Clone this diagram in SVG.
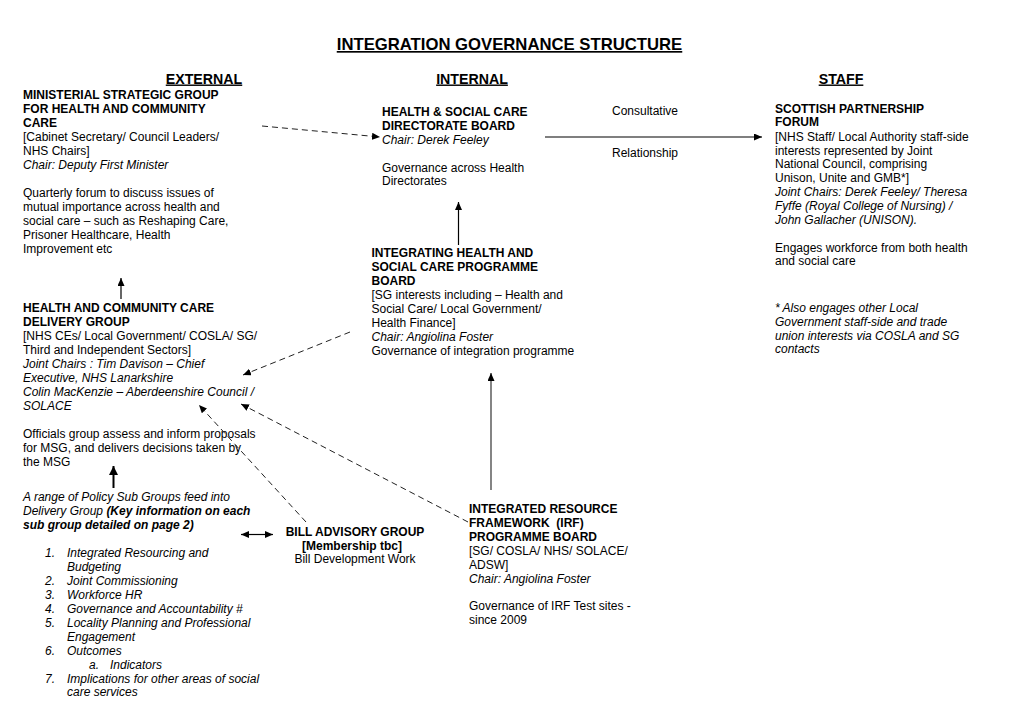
<svg xmlns="http://www.w3.org/2000/svg" width="1020" height="720" viewBox="0 0 1020 720">
<style>
text{font-family:"Liberation Sans",Arial,sans-serif;font-size:12px;fill:#000}
.b{font-weight:bold}
.i{font-style:italic}
.bi{font-weight:bold;font-style:italic}
.h{font-weight:bold;font-size:14.2px;text-decoration:underline}
.t{font-weight:bold;font-size:16.7px;text-decoration:underline}
.c{text-anchor:middle}
.dash{fill:none;stroke:#222;stroke-width:1;stroke-dasharray:6 4}
.solid{fill:none;stroke:#000;stroke-width:1.2}
</style>
<defs>
<marker id="ah" markerUnits="userSpaceOnUse" markerWidth="9" markerHeight="8" refX="8" refY="3.5" orient="auto-start-reverse"><path d="M0,0 L8,3.5 L0,7 z" fill="#000"/></marker>
<marker id="ahb" markerUnits="userSpaceOnUse" markerWidth="10" markerHeight="10" refX="9" refY="4.5" orient="auto"><path d="M0,0 L9,4.5 L0,9 z" fill="#000"/></marker>
</defs>
<rect width="1020" height="720" fill="#fff"/>
<text class="t c" x="509.5" y="50">INTEGRATION GOVERNANCE STRUCTURE</text>
<text class="h c" x="204" y="83.5">EXTERNAL</text>
<text class="h c" x="472" y="83.5">INTERNAL</text>
<text class="h c" x="841" y="83.5">STAFF</text>

<g id="msg">
<text class="b" x="23" y="98.5">MINISTERIAL STRATEGIC GROUP</text>
<text class="b" x="23" y="112.5">FOR HEALTH AND COMMUNITY</text>
<text class="b" x="23" y="126.5">CARE</text>
<text x="23" y="140.5">[Cabinet Secretary/ Council Leaders/</text>
<text x="23" y="154.5">NHS Chairs]</text>
<text class="i" x="23" y="168.5">Chair: Deputy First Minister</text>
<text x="23" y="196.5">Quarterly forum to discuss issues of</text>
<text x="23" y="210.5">mutual importance across health and</text>
<text x="23" y="224.5">social care – such as Reshaping Care,</text>
<text x="23" y="238.5">Prisoner Healthcare, Health</text>
<text x="23" y="252.5">Improvement etc</text>
</g>

<g id="delivery">
<text class="b" x="23" y="311.5">HEALTH AND COMMUNITY CARE</text>
<text class="b" x="23" y="325.5">DELIVERY GROUP</text>
<text x="23" y="339.5">[NHS CEs/ Local Government/ COSLA/ SG/</text>
<text x="23" y="353.5">Third and Independent Sectors]</text>
<text class="i" x="23" y="367.5">Joint Chairs : Tim Davison – Chief</text>
<text class="i" x="23" y="381.5">Executive, NHS Lanarkshire</text>
<text class="i" x="23" y="395.5">Colin MacKenzie – Aberdeenshire Council /</text>
<text class="i" x="23" y="409.5">SOLACE</text>
<text x="23" y="437.5">Officials group assess and inform proposals</text>
<text x="23" y="451.5">for MSG, and delivers decisions taken by</text>
<text x="23" y="465.5">the MSG</text>
</g>

<g id="subgroups">
<text class="i" x="23" y="501">A range of Policy Sub Groups feed into</text>
<text x="23" y="515"><tspan class="i">Delivery Group </tspan><tspan class="bi">(Key information on each</tspan></text>
<text class="bi" x="23" y="528.5">sub group detailed on page 2)</text>
<text class="i" x="45" y="557">1.</text><text class="i" x="67" y="557">Integrated Resourcing and</text>
<text class="i" x="67" y="571">Budgeting</text>
<text class="i" x="45" y="585">2.</text><text class="i" x="67" y="585">Joint Commissioning</text>
<text class="i" x="45" y="598.5">3.</text><text class="i" x="67" y="598.5">Workforce HR</text>
<text class="i" x="45" y="612.5">4.</text><text class="i" x="67" y="612.5">Governance and Accountability #</text>
<text class="i" x="45" y="626.5">5.</text><text class="i" x="67" y="626.5">Locality Planning and Professional</text>
<text class="i" x="67" y="640.5">Engagement</text>
<text class="i" x="45" y="654.5">6.</text><text class="i" x="67" y="654.5">Outcomes</text>
<text class="i" x="89" y="668.5">a.</text><text class="i" x="110" y="668.5">Indicators</text>
<text class="i" x="45" y="682.5">7.</text><text class="i" x="67" y="682.5">Implications for other areas of social</text>
<text class="i" x="67" y="696">care services</text>
</g>

<g id="bill">
<text class="b c" x="355" y="536">BILL ADVISORY GROUP</text>
<text class="b c" x="352" y="549.5">[Membership tbc]</text>
<text class="c" x="355" y="562.5">Bill Development Work</text>
</g>

<g id="directorate">
<text class="b" x="382" y="116">HEALTH &amp; SOCIAL CARE</text>
<text class="b" x="382" y="129.5">DIRECTORATE BOARD</text>
<text class="i" x="382" y="143.5">Chair: Derek Feeley</text>
<text x="382" y="171.5">Governance across Health</text>
<text x="382" y="185">Directorates</text>
</g>

<g id="programme">
<text class="b" x="371.5" y="256.5">INTEGRATING HEALTH AND</text>
<text class="b" x="371.5" y="270.5">SOCIAL CARE PROGRAMME</text>
<text class="b" x="371.5" y="284.5">BOARD</text>
<text x="371.5" y="298.5">[SG interests including – Health and</text>
<text x="371.5" y="312.5">Social Care/ Local Government/</text>
<text x="371.5" y="326.5">Health Finance]</text>
<text class="i" x="371.5" y="340.5">Chair: Angiolina Foster</text>
<text x="371.5" y="354.5">Governance of integration programme</text>
</g>

<g id="irf">
<text class="b" x="469" y="512.5">INTEGRATED RESOURCE</text>
<text class="b" x="469" y="526.5" xml:space="preserve">FRAMEWORK  (IRF)</text>
<text class="b" x="469" y="540.5">PROGRAMME BOARD</text>
<text x="469" y="555">[SG/ COSLA/ NHS/ SOLACE/</text>
<text x="469" y="568.5">ADSW]</text>
<text class="i" x="469" y="582.5">Chair: Angiolina Foster</text>
<text x="469" y="610">Governance of IRF Test sites -</text>
<text x="469" y="623.5">since 2009</text>
</g>

<g id="spf">
<text class="b" x="775" y="112.5">SCOTTISH PARTNERSHIP</text>
<text class="b" x="775" y="126">FORUM</text>
<text x="775" y="141">[NHS Staff/ Local Authority staff-side</text>
<text x="775" y="154.5">interests represented by Joint</text>
<text x="775" y="168">National Council, comprising</text>
<text x="775" y="181.5">Unison, Unite and GMB*]</text>
<text class="i" x="775" y="196">Joint Chairs: Derek Feeley/ Theresa</text>
<text class="i" x="775" y="210">Fyffe (Royal College of Nursing) /</text>
<text class="i" x="775" y="223.5">John Gallacher (UNISON).</text>
<text x="775" y="251.5">Engages workforce from both health</text>
<text x="775" y="265">and social care</text>
<text class="i" x="775" y="311.5">* Also engages other Local</text>
<text class="i" x="775" y="325.5">Government staff-side and trade</text>
<text class="i" x="775" y="339.5">union interests via COSLA and SG</text>
<text class="i" x="775" y="353">contacts</text>
</g>

<g id="connectors">
<path class="dash" d="M262,126 L380,137" marker-end="url(#ah)"/>
<path class="solid" d="M545,137 L762,137" marker-end="url(#ah)"/>
<text x="612" y="115">Consultative</text>
<text x="612" y="157">Relationship</text>
<path class="solid" d="M458.5,245 L458.5,202" marker-end="url(#ah)"/>
<path class="solid" d="M121,299 L121,278" marker-end="url(#ah)"/>
<path class="dash" d="M350,332 L243,375" marker-end="url(#ah)"/>
<path class="dash" d="M306,522 L199,405" marker-end="url(#ah)"/>
<path class="dash" d="M468,522 L241,404" marker-end="url(#ah)"/>
<path d="M491,490 L491,373" fill="none" stroke="#333" stroke-width="1.2" marker-end="url(#ah)"/>
<path d="M113.5,488 L113.5,466" fill="none" stroke="#000" stroke-width="2" marker-end="url(#ahb)"/>
<path class="solid" d="M241,534.5 L273,534.5" marker-start="url(#ah)" marker-end="url(#ah)"/>
</g>
</svg>
